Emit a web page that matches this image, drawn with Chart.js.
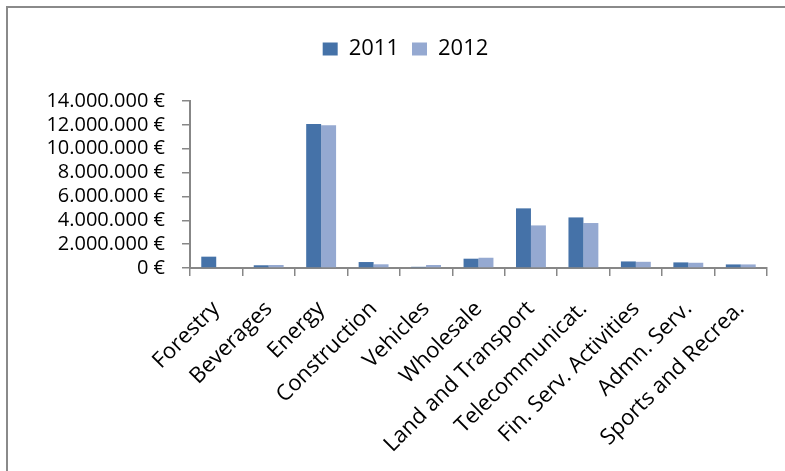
<!DOCTYPE html>
<html>
<head>
<meta charset="utf-8">
<script src="https://cdn.jsdelivr.net/npm/chart.js@4.4.1/dist/chart.umd.min.js"></script>
<style>
  html, body { margin: 0; padding: 0; background: #ffffff; }
  #wrap { position: relative; width: 785px; height: 471px; overflow: hidden; }
  #frame { position: absolute; left: 6px; top: 6px; width: 900px; height: 600px; border-left: 2px solid #8a8a8a; border-top: 2px solid #8a8a8a; }
  #c { position: absolute; left: 0; top: 0; }
</style>
</head>
<body>
<div id="wrap">
  <div id="frame"></div>
  <canvas id="c" width="785" height="471"></canvas>
</div>
<script>
const categories = ["Forestry", "Beverages", "Energy", "Construction", "Vehicles", "Wholesale",
  "Land and Transport", "Telecommunicat.", "Fin. Serv. Activities", "Admn. Serv.", "Sports and Recrea."];
const seriesNames = ["2011", "2012"];
const values2011 = [950000, 230000, 12070000, 500000, 100000, 780000, 5000000, 4240000, 550000, 470000, 300000];
const values2012 = [0, 250000, 11960000, 310000, 250000, 860000, 3570000, 3770000, 520000, 440000, 300000];
const yTicks = [0, 2000000, 4000000, 6000000, 8000000, 10000000, 12000000, 14000000];

const FONT = "'Open Sans', 'DejaVu Sans', sans-serif";
const AXIS = "#878787";

function fmtEuro(v) {
  const s = Math.round(v).toString().replace(/\B(?=(\d{3})+(?!\d))/g, ".");
  return s + " €";
}

const legendMargin = {
  id: "legendMargin",
  beforeInit(chart) {
    const orig = chart.legend.fit;
    chart.legend.fit = function () {
      orig.bind(chart.legend)();
      this.height = 76;
    };
  },
  afterLayout(chart) {
    chart.legend.left += 22;
    chart.legend.right += 22;
  }
};

new Chart(document.getElementById("c"), {
  type: "bar",
  data: {
    labels: categories,
    datasets: [
      { label: seriesNames[0], data: values2011, backgroundColor: "#4572a8" },
      { label: seriesNames[1], data: values2012, backgroundColor: "#95a9d1" }
    ]
  },
  options: {
    responsive: false,
    animation: false,
    devicePixelRatio: 1,
    layout: { padding: { top: 25, right: 18, left: 0, bottom: 0 } },
    datasets: { bar: { categoryPercentage: 0.57, barPercentage: 1.0 } },
    plugins: {
      legend: {
        position: "top",
        labels: {
          font: { family: FONT, size: 22 },
          color: "#000000",
          boxWidth: 15,
          boxHeight: 13,
          padding: 13
        }
      },
      tooltip: { enabled: false }
    },
    scales: {
      x: {
        grid: { display: true, drawOnChartArea: false, drawTicks: true, tickLength: 8, color: AXIS, lineWidth: 1.5, offset: true },
        border: { display: true, color: AXIS, width: 2 },
        ticks: {
          font: { family: FONT, size: 22 },
          color: "#000000",
          minRotation: 45,
          maxRotation: 45,
          autoSkip: false,
          padding: 20
        },
        afterFit(scale) { scale.height = 203; }
      },
      y: {
        min: 0,
        max: 14000000,
        afterBuildTicks(scale) { scale.ticks = yTicks.map(v => ({ value: v })); },
        grid: { display: true, drawOnChartArea: false, drawTicks: true, tickLength: 8, color: AXIS, lineWidth: 1.5 },
        border: { display: true, color: AXIS, width: 2 },
        ticks: {
          font: { family: FONT, size: 20 },
          color: "#000000",
          padding: 17,
          autoSkip: false,
          callback: (v) => fmtEuro(v)
        },
        afterFit(scale) { scale.width = 190; }
      }
    }
  },
  plugins: [legendMargin]
});
</script>
</body>
</html>
